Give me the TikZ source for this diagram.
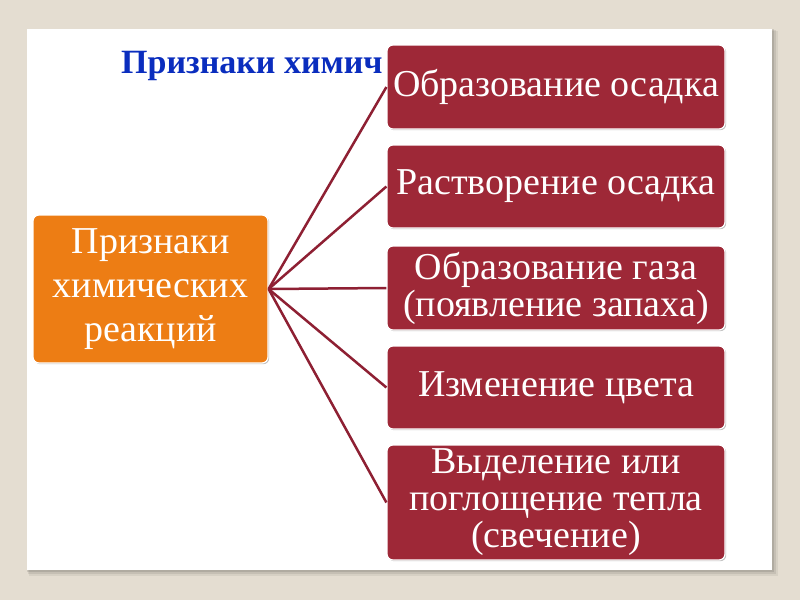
\documentclass[tikz,border=0pt]{standalone}
\usepackage{fontspec}
\setmainfont{Liberation Serif}
\usetikzlibrary{shadows}
\definecolor{bgbeige}{HTML}{E4DDD1}
\definecolor{boxred}{HTML}{9E2837}
\definecolor{boxorange}{HTML}{ED7D14}
\definecolor{linered}{HTML}{8E2033}
\definecolor{titleblue}{HTML}{0A2DBE}
\begin{document}
\begin{tikzpicture}[x=1pt,y=-1pt,
  boxbase/.style={rectangle, rounded corners=6pt, draw=white, line width=1.2pt,
    text=white, align=center, inner sep=0pt,
    drop shadow={shadow xshift=1.2pt, shadow yshift=-1.2pt, opacity=0.5, fill=black!50}},
  redbox/.style={boxbase, fill=boxred, font=\fontsize{38}{37}\selectfont},
  orangebox/.style={boxbase, fill=boxorange, font=\fontsize{38}{44}\selectfont},
  link/.style={draw=linered, line width=2.5pt}]
\useasboundingbox (0,0) rectangle (800,600);
\fill[bgbeige] (0,0) rectangle (800,600);
% slide shadow
\fill[black, opacity=0.06] (29,31) rectangle (778,576);
\fill[black, opacity=0.08] (28,30) rectangle (776,574);
\fill[black, opacity=0.10] (27,29) rectangle (774,572);
\fill[white] (27,29) rectangle (772,570);
% title
\node[anchor=base west, inner sep=0pt, text=titleblue, font=\fontsize{34}{38}\selectfont\bfseries] (title) at (121,73) {Признаки химич};
% nodes
\node[orangebox, minimum width=235pt, minimum height=148pt] (main) at (150.5,289) {Признаки\\химических\\реакций};
\node[redbox, minimum width=338pt, minimum height=84pt] (b1) at (556,87) {Образование осадка};
\node[redbox, minimum width=338pt, minimum height=83pt] (b2) at (556,186.5) {Растворение осадка};
\node[redbox, minimum width=338pt, minimum height=84pt] (b3) at (556,288) {Образование газа\\(появление запаха)};
\node[redbox, minimum width=338pt, minimum height=83pt] (b4) at (556,387.5) {Изменение цвета};
\node[redbox, minimum width=338pt, minimum height=115pt] (b5) at (556,502.5) {Выделение или\\поглощение тепла\\(свечение)};
% connectors
\foreach \b in {b1,b2,b3,b4,b5} {
  \draw[link] (main.east) -- (\b.west);
}
\end{tikzpicture}
\end{document}
